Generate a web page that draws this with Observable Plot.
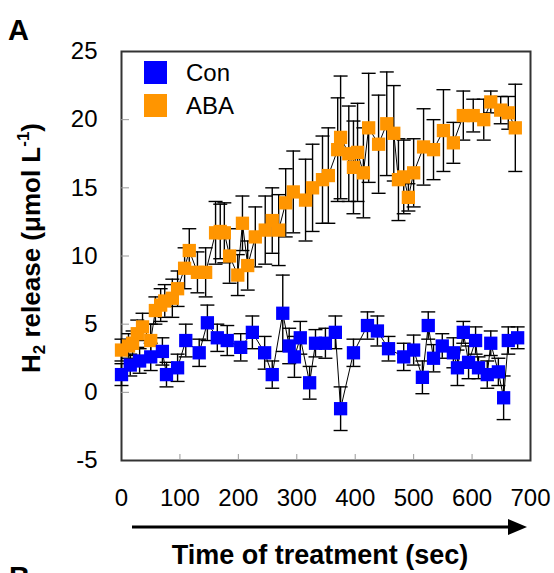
<!DOCTYPE html>
<html>
<head>
<meta charset="utf-8">
<script src="https://cdn.jsdelivr.net/npm/d3@7"></script>
<script src="https://cdn.jsdelivr.net/npm/@observablehq/plot@0.6"></script>
<style>
  body { margin: 0; background: #fff; }
  #chart svg { display: block; }
</style>
</head>
<body>
<div id="chart"></div>
<script>
// ---- data ----
const seriesNames = ["Con", "ABA"];
const seriesColors = ["#0000FF", "#FF9500"];

const conTime  = [0, 15, 31, 50, 70, 77, 96, 110, 133, 147, 164, 181, 204, 224, 245, 258, 276, 287, 296, 306, 322, 332, 349, 366, 375, 397, 421, 438, 457, 483, 500, 515, 525, 534, 549, 568, 575, 585, 594, 606, 611, 626, 632, 645, 654, 662, 678];
const conValue = [1.3, 2.0, 2.3, 2.6, 3.0, 1.3, 1.8, 3.8, 2.9, 5.1, 4.0, 3.8, 3.3, 4.4, 2.9, 1.3, 5.8, 3.4, 2.6, 4.0, 0.7, 3.6, 3.6, 4.4, -1.2, 2.9, 4.9, 4.5, 3.2, 2.6, 3.1, 1.1, 4.9, 2.5, 3.4, 2.9, 1.8, 4.4, 2.2, 3.8, 1.8, 1.3, 3.6, 1.5, -0.4, 3.8, 4.0];
const conError = [0.8, 0.8, 0.9, 1.0, 1.0, 0.9, 1.0, 1.2, 1.0, 1.3, 1.0, 1.1, 1.0, 1.2, 1.2, 1.0, 2.8, 1.3, 1.5, 1.2, 1.2, 1.0, 1.1, 1.2, 1.6, 1.0, 1.0, 1.1, 0.9, 1.0, 1.1, 1.2, 1.0, 1.0, 0.9, 1.1, 1.3, 0.8, 1.2, 1.0, 0.8, 1.0, 0.9, 1.0, 1.6, 1.0, 0.8];

const abaTime  = [0, 12, 19, 27, 36, 50, 58, 67, 74, 87, 96, 108, 116, 130, 144, 161, 169, 176, 185, 199, 207, 216, 229, 246, 258, 269, 281, 294, 315, 327, 344, 354, 370, 375, 389, 397, 404, 414, 423, 440, 454, 466, 474, 483, 491, 500, 517, 534, 551, 568, 585, 602, 620, 632, 649, 662, 674];
const abaValue = [3.1, 3.4, 3.6, 4.3, 4.8, 3.8, 6.0, 6.4, 6.7, 6.9, 7.6, 9.1, 10.4, 8.8, 8.8, 11.7, 11.8, 11.7, 10.0, 8.6, 12.4, 9.3, 11.4, 11.9, 12.6, 11.9, 13.9, 14.7, 14.1, 15.0, 15.6, 15.9, 17.8, 18.7, 17.5, 16.5, 17.6, 16.1, 19.4, 18.2, 19.7, 19.0, 15.6, 15.8, 14.3, 16.1, 18.0, 17.8, 19.2, 18.3, 20.3, 20.3, 20.0, 21.3, 20.7, 20.5, 19.4];
const abaError = [0.8, 0.9, 0.9, 1.0, 1.0, 1.2, 1.0, 1.2, 1.2, 1.4, 1.3, 1.5, 1.6, 1.5, 1.8, 2.3, 2.0, 2.2, 2.0, 1.5, 2.0, 1.8, 2.2, 2.5, 2.4, 2.6, 2.5, 3.0, 3.0, 3.2, 3.2, 3.5, 3.8, 4.5, 3.5, 3.4, 3.6, 3.3, 4.0, 3.6, 3.8, 3.5, 3.0, 2.7, 1.0, 2.5, 2.8, 2.2, 3.0, 1.5, 1.8, 1.2, 1.5, 0.8, 1.0, 1.2, 3.2];

const xTicks = [0, 100, 200, 300, 400, 500, 600, 700];
const yTicks = [-5, 0, 5, 10, 15, 20, 25];
const panelLabels = ["A", "B"];
const xTitle = "Time of treatment (sec)";

// ---- build tables ----
const build = (name, t, v, e) => t.map((ti, i) => ({series: name, t: ti, v: v[i], e: e[i]}));
const con = build(seriesNames[0], conTime, conValue, conError);
const aba = build(seriesNames[1], abaTime, abaValue, abaError);
const all = aba.concat(con);

const W = 554, H = 573;
const mL = 121, mR = 24, mT = 51, mB = 113;
const innerW = W - mL - mR, innerH = H - mT - mB;

const capSymbol = { draw(ctx) { ctx.moveTo(-7, 0); ctx.lineTo(7, 0); } };
const font = "Liberation Sans, Arial, Helvetica, sans-serif";

const chart = Plot.plot({
  width: W, height: H,
  marginLeft: mL, marginRight: mR, marginTop: mT, marginBottom: mB,
  x: {domain: [0, 700]},
  y: {domain: [-5, 25]},
  style: {fontFamily: font, background: "white", color: "black"},
  marks: [
    Plot.frame({stroke: "#333", strokeWidth: 2}),
    Plot.tickY(yTicks.slice(1, -1), {y: d => d, insetRight: innerW - 8, stroke: "#999", strokeWidth: 1}),
    Plot.tickX(xTicks.slice(1, -1), {x: d => d, insetTop: innerH - 6, stroke: "#999", strokeWidth: 1}),
    Plot.ruleX(all, {x: "t", y1: d => d.v - d.e, y2: d => d.v + d.e, stroke: "black", strokeWidth: 1.4}),
    Plot.dot(all, {x: "t", y: d => d.v + d.e, symbol: capSymbol, fill: "none", stroke: "black", strokeWidth: 1.4}),
    Plot.dot(all, {x: "t", y: d => d.v - d.e, symbol: capSymbol, fill: "none", stroke: "black", strokeWidth: 1.4}),
    Plot.line(all, {x: "t", y: "v", z: "series", stroke: "black", strokeWidth: 1}),
    Plot.dot(aba, {x: "t", y: "v", symbol: "square", r: 7.5, fill: seriesColors[1], stroke: null}),
    Plot.dot(con, {x: "t", y: "v", symbol: "square", r: 7.5, fill: seriesColors[0], stroke: null}),
    Plot.axisY({ticks: yTicks, tickSize: 0, tickPadding: 24, fontSize: 24, label: null, tickFormat: d => String(d)}),
    Plot.axisX({ticks: xTicks, tickSize: 0, tickPadding: 28, fontSize: 24, label: null, tickFormat: d => String(d)})
  ]
});

document.getElementById("chart").append(chart);

// ---- annotations ----
const svg = d3.select(chart);
const ann = svg.append("g").attr("font-family", font).attr("fill", "black").attr("text-anchor", "start");

ann.append("text").attr("x", 8).attr("y", 40).attr("font-size", 29).attr("font-weight", "bold").text(panelLabels[0]);
ann.append("text").attr("x", 9).attr("y", 587).attr("font-size", 29).attr("font-weight", "bold").text(panelLabels[1]);

// y title with subscript/superscript
const yt = ann.append("text")
  .attr("transform", "translate(40,248) rotate(-90)")
  .attr("text-anchor", "middle")
  .attr("font-size", 26).attr("font-weight", "bold");
yt.append("tspan").text("H");
yt.append("tspan").attr("font-size", 17).attr("dy", 5).text("2");
yt.append("tspan").attr("dy", -5).text(" release (μmol L");
yt.append("tspan").attr("font-size", 17).attr("dy", -11).text("-1");
yt.append("tspan").attr("dy", 11).text(")");

// x title
ann.append("text").attr("x", 320).attr("y", 564).attr("text-anchor", "middle")
  .attr("font-size", 27).attr("font-weight", "bold").text(xTitle);

// arrow
ann.append("line").attr("x1", 132).attr("x2", 512).attr("y1", 527).attr("y2", 527)
  .attr("stroke", "black").attr("stroke-width", 3);
ann.append("path").attr("d", "M508,519 L527,527 L508,535 Z").attr("fill", "black");

// legend
const leg = ann.append("g");
seriesNames.forEach((name, i) => {
  const y0 = 61 + i * 33;
  leg.append("rect").attr("x", 144).attr("y", y0).attr("width", 23).attr("height", 23).attr("fill", seriesColors[i]);
  leg.append("text").attr("x", 186).attr("y", y0 + 20).attr("font-size", 24).text(name);
});
</script>
</body>
</html>
